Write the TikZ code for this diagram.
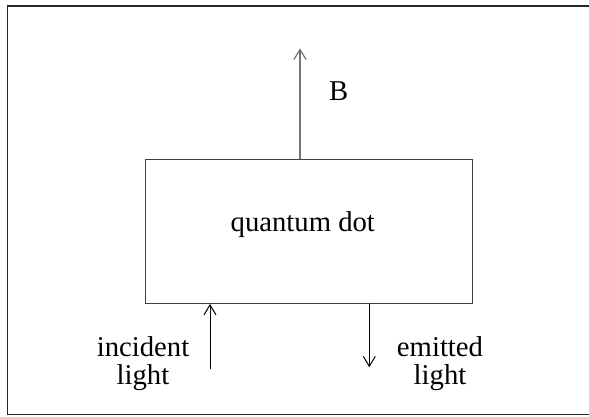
\documentclass[tikz,border=0pt]{standalone}
\usepackage{fontspec}
\setmainfont{Liberation Serif}
\usetikzlibrary{arrows.meta}
\begin{document}
\begin{tikzpicture}[x=1pt,y=-1pt,
  lbl/.style={font=\fontsize{28.7}{27.6}\selectfont, inner sep=0pt, align=center},
  arr/.style={-{Straight Barb[length=10pt,width=12pt]}, line width=1pt},
  frame/.style={draw=black!85, line width=1.3pt}]
\useasboundingbox (0,0) rectangle (589,416);
\clip (0,0) rectangle (589,416);
\draw[frame] (7.8,6) rectangle (592,414.8);
\node[draw=black!75, line width=1.2pt, minimum width=327.5pt, minimum height=144pt, inner sep=0pt] (qd) at (309,231.3) {};
\node[lbl, anchor=base] (qdt) at (302.8,231.7) {quantum dot};
\coordinate (btip) at (300,48.3);
\draw[arr, draw=black!55, line width=1.2pt] (qd.north -| btip) -- (btip);
\node[lbl, anchor=base west] (b) at (329,100.7) {B};
\coordinate (inbot) at (210,369);
\draw[arr] (inbot) -- (qd.south -| inbot);
\coordinate (emtip) at (369.3,367.3);
\draw[arr] (qd.south -| emtip) -- (emtip);
\node[lbl, anchor=base] (inc) at (143,384.3) {incident\\light};
\node[lbl, anchor=base] (emi) at (440,384.3) {emitted\\light};
\end{tikzpicture}
\end{document}
